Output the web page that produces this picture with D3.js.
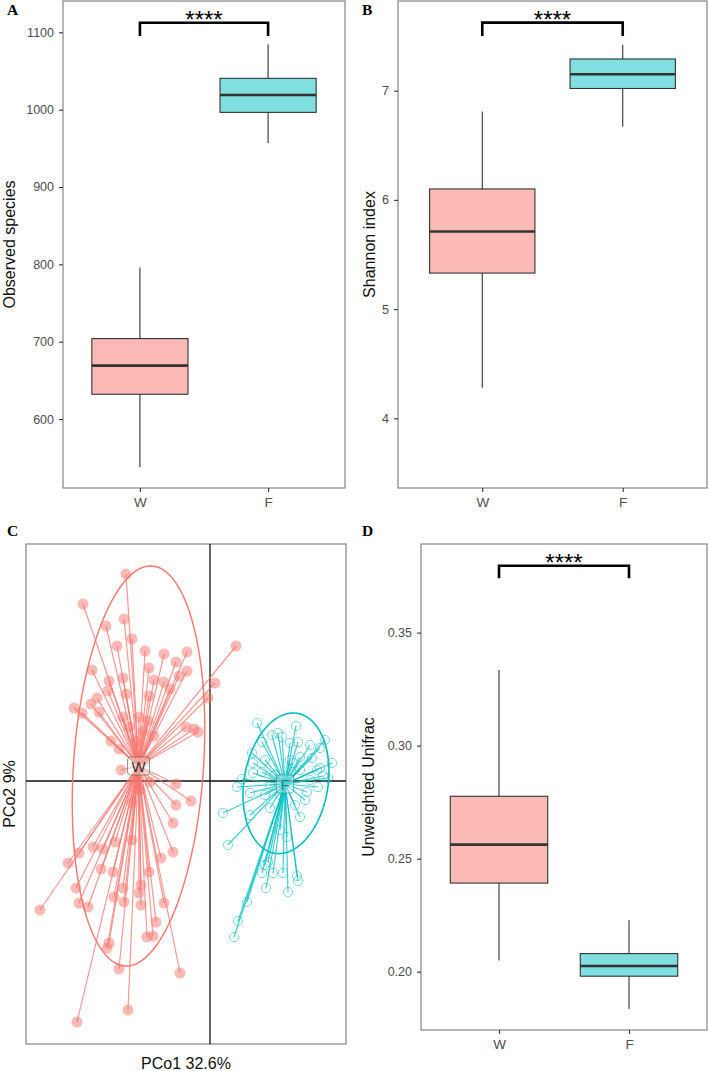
<!DOCTYPE html>
<html>
<head>
<meta charset="utf-8">
<script src="https://cdn.jsdelivr.net/npm/d3@7"></script>
<style>
  body { margin: 0; background: #fff; }
  svg { display: block; font-family: "Liberation Sans", Arial, sans-serif; }
</style>
</head>
<body>
<svg id="chart" width="709" height="1071"></svg>
<script>
// groups, box statistics as [min, q1, median, q3, max]
const groups = ["W", "F"];
const observedW = [538, 632, 669, 704, 796];
const observedF = [957, 996.5, 1019, 1040.5, 1084.5];
const shannonW = [4.28, 5.33, 5.71, 6.10, 6.81];
const shannonF = [6.67, 7.02, 7.15, 7.29, 7.42];
const unifracW = [0.2049, 0.2392, 0.2562, 0.2776, 0.3335];
const unifracF = [0.1835, 0.198, 0.2025, 0.208, 0.2228];

const observedTicks = [600, 700, 800, 900, 1000, 1100];
const shannonTicks = [4, 5, 6, 7];
const unifracTicks = [0.20, 0.25, 0.30, 0.35];

// significance bracket: [bar level, tip level]
const sigLabel = "****";
const observedSig = [1112.4, 1095.2];
const shannonSig = [7.623, 7.501];
const unifracSig = [0.3796, 0.3741];

// PCoA coordinates [PCo1, PCo2]
const pcoaW = [
  [-0.084, 0.207], [-0.127, 0.177], [-0.104, 0.155], [-0.086, 0.162], [-0.078, 0.142],
  [-0.093, 0.135], [-0.065, 0.130], [-0.046, 0.127], [-0.023, 0.129], [0.026, 0.135],
  [-0.034, 0.119], [-0.061, 0.113], [-0.118, 0.111], [-0.023, 0.110], [-0.087, 0.103],
  [-0.101, 0.100], [-0.056, 0.101], [-0.046, 0.099], [0.005, 0.098], [-0.102, 0.090],
  [-0.040, 0.092], [-0.113, 0.083], [-0.119, 0.077], [-0.136, 0.073], [-0.111, 0.069],
  [-0.002, 0.083], [-0.061, 0.085], [-0.084, 0.087], [-0.024, 0.054], [-0.016, 0.052],
  [-0.012, 0.049], [-0.099, 0.040], [-0.091, 0.032], [-0.056, 0.045], [-0.087, 0.064],
  [-0.071, 0.064], [-0.089, 0.011], [-0.128, 0.068], [-0.031, 0.105], [-0.067, 0.050],
  [-0.074, 0.040], [-0.062, 0.060], [-0.081, 0.054], [-0.034, -0.003], [-0.019, -0.020],
  [-0.034, -0.024], [-0.037, -0.042], [-0.037, -0.071], [-0.049, -0.077], [-0.078, -0.059],
  [-0.095, -0.061], [-0.117, -0.066], [-0.107, -0.068], [-0.131, -0.072], [-0.142, -0.082],
  [-0.109, -0.088], [-0.097, -0.091], [-0.061, -0.091], [-0.134, -0.107], [-0.069, -0.104],
  [-0.087, -0.107], [-0.071, -0.112], [-0.096, -0.116], [-0.086, -0.121], [-0.131, -0.122],
  [-0.122, -0.126], [-0.069, -0.124], [-0.046, -0.122], [-0.170, -0.129], [-0.054, -0.141],
  [-0.063, -0.156], [-0.057, -0.155], [-0.101, -0.162], [-0.103, -0.167], [-0.091, -0.188],
  [-0.030, -0.192], [-0.082, -0.229], [-0.133, -0.241], [-0.078, -0.022], [-0.070, -0.009],
  [-0.065, 0.021], [-0.060, -0.001]
];
const pcoaF = [
  [0.047, 0.058], [0.086, 0.055], [0.062, 0.046], [0.068, 0.048], [0.072, 0.044],
  [0.080, 0.038], [0.088, 0.039], [0.100, 0.036], [0.115, 0.041], [0.110, 0.033],
  [0.052, 0.039], [0.042, 0.028], [0.122, 0.018], [0.110, 0.013], [0.043, 0.008],
  [0.052, 0.009], [0.032, 0.002], [0.027, -0.006], [0.108, -0.006], [0.097, -0.011],
  [0.040, -0.012], [0.055, -0.014], [0.013, -0.032], [0.090, -0.036], [0.040, -0.034],
  [0.060, -0.027], [0.018, -0.064], [0.077, -0.056], [0.058, -0.081], [0.052, -0.092],
  [0.063, -0.092], [0.073, -0.092], [0.087, -0.095], [0.070, -0.049], [0.083, 0.018],
  [0.100, 0.001], [0.118, 0.003], [0.088, -0.100], [0.056, -0.107], [0.078, -0.111],
  [0.037, -0.121], [0.028, -0.140], [0.024, -0.156], [0.055, -0.084], [0.090, 0.024],
  [0.043, 0.018], [0.080, 0.021], [0.090, 0.011], [0.065, 0.006], [0.055, 0.021],
  [0.095, -0.019], [0.070, -0.014], [0.085, -0.024], [0.060, -0.004], [0.102, 0.023],
  [0.113, 0.005], [0.107, 0.011]
];
const centroidW = [-0.0715, 0.015];
const centroidF = [0.075, -0.003];
// ellipse: [cx, cy, semi-major, semi-minor, angle in degrees]
const ellipseW = [-0.0715, 0.015, 0.2005, 0.065, 86.1];
const ellipseF = [0.076, -0.0023, 0.0709, 0.042, 80.9];
const pcoaXLabel = "PCo1 32.6%";
const pcoaYLabel = "PCo2 9%";

const colW = "#F8766D", colF = "#00BFC4";
const svg = d3.select("#chart");

function boxPanel(cfg) {
  const x = d3.scalePoint().domain(groups).range([cfg.left, cfg.right]).padding(0.6);
  const y = d3.scaleLinear().domain(cfg.domain).range([cfg.bottom, cfg.top]);
  const bw = x.step() * 0.75;
  const g = svg.append("g");

  g.append("rect")
      .attr("x", cfg.left).attr("y", cfg.top)
      .attr("width", cfg.right - cfg.left).attr("height", cfg.bottom - cfg.top)
      .attr("fill", "none").attr("stroke", "#7a7a7a").attr("stroke-width", 1.1);

  cfg.stats.forEach((s, i) => {
    const cx = x(groups[i]), fill = i === 0 ? colW : colF;
    g.append("line").attr("x1", cx).attr("x2", cx).attr("y1", y(s[0])).attr("y2", y(s[1]))
        .attr("stroke", "#333").attr("stroke-width", 1.1);
    g.append("line").attr("x1", cx).attr("x2", cx).attr("y1", y(s[3])).attr("y2", y(s[4]))
        .attr("stroke", "#333").attr("stroke-width", 1.1);
    g.append("rect").attr("x", cx - bw / 2).attr("width", bw)
        .attr("y", y(s[3])).attr("height", y(s[1]) - y(s[3]))
        .attr("fill", fill).attr("fill-opacity", 0.5)
        .attr("stroke", "#333").attr("stroke-width", 1.1);
    g.append("line").attr("x1", cx - bw / 2).attr("x2", cx + bw / 2)
        .attr("y1", y(s[2])).attr("y2", y(s[2]))
        .attr("stroke", "#333").attr("stroke-width", 2.6);
  });

  // significance bracket
  const xa = x(groups[0]), xb = x(groups[1]);
  g.append("path")
      .attr("d", `M${xa},${y(cfg.sig[1])}V${y(cfg.sig[0])}H${xb}V${y(cfg.sig[1])}`)
      .attr("fill", "none").attr("stroke", "#000").attr("stroke-width", 2.6);
  g.append("text").attr("x", (xa + xb) / 2).attr("y", y(cfg.sig[0]) + 5)
      .attr("text-anchor", "middle").attr("font-size", 24).attr("fill", "#000")
      .text(sigLabel);

  const ya = g.append("g").attr("transform", `translate(${cfg.left},0)`)
      .call(d3.axisLeft(y).tickValues(cfg.ticks).tickSize(4).tickPadding(5).tickFormat(cfg.format));
  const xaG = g.append("g").attr("transform", `translate(0,${cfg.bottom})`)
      .call(d3.axisBottom(x).tickSize(4).tickPadding(5));
  [ya, xaG].forEach(a => {
    a.select(".domain").remove();
    a.selectAll(".tick line").attr("stroke", "#333").attr("stroke-width", 1.1);
    a.selectAll(".tick text").attr("fill", "#4d4d4d").attr("font-size", 12.5)
        .attr("font-family", "Liberation Sans, Arial, sans-serif");
  });
  xaG.selectAll(".tick text").attr("font-size", 13.5);

  g.append("text")
      .attr("transform", `translate(${cfg.titleX},${(cfg.top + cfg.bottom) / 2}) rotate(-90)`)
      .attr("text-anchor", "middle").attr("font-size", 16).attr("fill", "#111")
      .text(cfg.title);
}

function panelLabel(t, px, py) {
  svg.append("text").attr("x", px).attr("y", py)
      .attr("font-family", "Liberation Serif, Times New Roman, serif")
      .attr("font-weight", "bold").attr("font-size", 15.5).attr("fill", "#000")
      .text(t);
}

boxPanel({ left: 63, right: 345, top: 1, bottom: 488, domain: [510.8, 1140.5],
  ticks: observedTicks, format: d3.format("d"), stats: [observedW, observedF],
  sig: observedSig, title: "Observed species", titleX: 14.5 });
boxPanel({ left: 398, right: 707, top: 1, bottom: 488, domain: [3.362, 7.821],
  ticks: shannonTicks, format: d3.format("d"), stats: [shannonW, shannonF],
  sig: shannonSig, title: "Shannon index", titleX: 375 });
boxPanel({ left: 421, right: 707, top: 544, bottom: 1030, domain: [0.1742, 0.3892],
  ticks: unifracTicks, format: d3.format(".2f"), stats: [unifracW, unifracF],
  sig: unifracSig, title: "Unweighted Unifrac", titleX: 374 });

// PCoA panel
(function () {
  const left = 26, right = 346, top = 544, bottom = 1044;
  const x = d3.scaleLinear().domain([-0.184, 0.136]).range([left, right]);
  const y = d3.scaleLinear().domain([-0.263, 0.237]).range([bottom, top]);
  const g = svg.append("g");

  g.append("rect").attr("x", left).attr("y", top)
      .attr("width", right - left).attr("height", bottom - top)
      .attr("fill", "none").attr("stroke", "#7a7a7a").attr("stroke-width", 1.1);
  g.append("line").attr("x1", x(0)).attr("x2", x(0)).attr("y1", top).attr("y2", bottom)
      .attr("stroke", "#111").attr("stroke-width", 1.3);
  g.append("line").attr("x1", left).attr("x2", right).attr("y1", y(0)).attr("y2", y(0))
      .attr("stroke", "#111").attr("stroke-width", 1.3);

  const sets = [
    { pts: pcoaW, c: centroidW, e: ellipseW, col: colW, name: "W", filled: true, txt: "#333" },
    { pts: pcoaF, c: centroidF, e: ellipseF, col: colF, name: "F", filled: false, txt: "#1f8486" }
  ];

  sets.forEach(s => {
    g.append("g").selectAll("circle").data(s.pts).join("circle")
        .attr("cx", d => x(d[0])).attr("cy", d => y(d[1]))
        .attr("r", s.filled ? 5.5 : 4.6)
        .attr("fill", s.filled ? s.col : "none").attr("fill-opacity", 0.5)
        .attr("stroke", s.filled ? "none" : s.col).attr("stroke-opacity", 0.6)
        .attr("stroke-width", 0.9);
    g.append("g").selectAll("line").data(s.pts).join("line")
        .attr("x1", x(s.c[0])).attr("y1", y(s.c[1]))
        .attr("x2", d => x(d[0])).attr("y2", d => y(d[1]))
        .attr("stroke", s.col).attr("stroke-opacity", 0.75).attr("stroke-width", 1.2);

    const th = s.e[4] * Math.PI / 180;
    const ring = d3.range(0, 121).map(k => {
      const t = k / 120 * 2 * Math.PI;
      const u = s.e[2] * Math.cos(t), v = s.e[3] * Math.sin(t);
      return [s.e[0] + u * Math.cos(th) - v * Math.sin(th), s.e[1] + u * Math.sin(th) + v * Math.cos(th)];
    });
    g.append("path").datum(ring)
        .attr("d", d3.line().x(d => x(d[0])).y(d => y(d[1])))
        .attr("fill", "none").attr("stroke", s.col).attr("stroke-width", s.filled ? 1.4 : 1.6);
  });

  sets.forEach(s => {
    const cx = x(s.c[0]), cy = y(s.c[1]);
    const lab = g.append("g").attr("transform", `translate(${cx},${cy})`);
    const w = s.name === "W" ? 22 : 17;
    lab.append("rect").attr("x", -w / 2).attr("y", -9).attr("width", w).attr("height", 18)
        .attr("rx", 3).attr("fill", "#fff").attr("fill-opacity", 0.3)
        .attr("stroke", s.filled ? "#666" : "#3a9a9c").attr("stroke-width", 0.7);
    lab.append("text").attr("text-anchor", "middle").attr("y", 5.5)
        .attr("font-size", 15).attr("fill", s.txt).text(s.name);
  });

  g.append("text").attr("x", (left + right) / 2).attr("y", 1069)
      .attr("text-anchor", "middle").attr("font-size", 16).attr("fill", "#111").text(pcoaXLabel);
  g.append("text")
      .attr("transform", `translate(15,${(top + bottom) / 2}) rotate(-90)`)
      .attr("text-anchor", "middle").attr("font-size", 16).attr("fill", "#111").text(pcoaYLabel);
})();

panelLabel("A", 7, 15);
panelLabel("B", 362, 15);
panelLabel("C", 7, 536);
panelLabel("D", 362, 536);
</script>
</body>
</html>
